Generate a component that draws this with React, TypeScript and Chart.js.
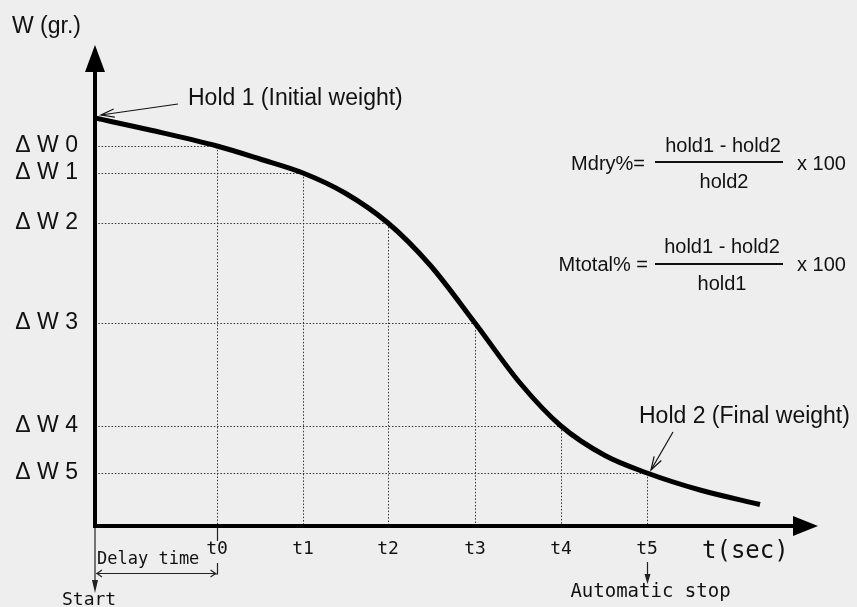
import React, { useEffect, useRef } from 'react';
import { Chart, registerables } from 'chart.js';

Chart.register(...registerables);

// ---- data ----
const tValues = [12.2, 20.8, 29.3, 38.0, 46.6, 55.2];
const wValues = [38.0, 35.3, 30.3, 20.3, 10.0, 5.3];
const xTickLabels = ['t0', 't1', 't2', 't3', 't4', 't5'];
const yTickLabels = ['\u0394 W 0', '\u0394 W 1', '\u0394 W 2', '\u0394 W 3', '\u0394 W 4', '\u0394 W 5'];
const curveT = [0, 5.5, 12.2, 16.5, 20.8, 25.0, 29.3, 33.5, 38.0, 42.5, 46.6, 51.0, 55.2, 60.5, 66.5];
const curveW = [40.8, 39.6, 38.0, 36.7, 35.3, 33.3, 30.3, 26.1, 20.3, 14.3, 10.0, 7.05, 5.3, 3.6, 2.15];
const X_MAX = 72.3;
const Y_MAX = 48.1;

const BG = '#eeeeee';
const INK = '#111111';
const SANS = '"Liberation Sans", Arial, sans-serif';
const MONO = '"DejaVu Sans Mono", monospace';

function openHead(ctx: CanvasRenderingContext2D, fx: number, fy: number, tx: number, ty: number, len: number, ang: number) {
  const a = Math.atan2(ty - fy, tx - fx);
  ctx.beginPath();
  ctx.moveTo(tx - len * Math.cos(a - ang), ty - len * Math.sin(a - ang));
  ctx.lineTo(tx, ty);
  ctx.lineTo(tx - len * Math.cos(a + ang), ty - len * Math.sin(a + ang));
  ctx.stroke();
}

function filledHead(ctx: CanvasRenderingContext2D, fx: number, fy: number, tx: number, ty: number, len: number, half: number) {
  const a = Math.atan2(ty - fy, tx - fx);
  const bx = tx - len * Math.cos(a), by = ty - len * Math.sin(a);
  const nx = -Math.sin(a) * half, ny = Math.cos(a) * half;
  ctx.beginPath();
  ctx.moveTo(tx, ty);
  ctx.lineTo(bx + nx, by + ny);
  ctx.lineTo(bx - nx, by - ny);
  ctx.closePath();
  ctx.fill();
}

function text(ctx: CanvasRenderingContext2D, s: string, x: number, y: number, font: string, align: CanvasTextAlign = 'left', base: CanvasTextBaseline = 'middle') {
  ctx.font = font;
  ctx.textAlign = align;
  ctx.textBaseline = base;
  ctx.fillText(s, x, y);
}

const decor = {
  id: 'decor',
  beforeDraw(chart: any) {
    const { ctx, width, height } = chart;
    ctx.save();
    ctx.fillStyle = BG;
    ctx.fillRect(0, 0, width, height);
    ctx.restore();
  },
  beforeDatasetsDraw(chart: any) {
    const ctx: CanvasRenderingContext2D = chart.ctx;
    const xs = chart.scales.x, ys = chart.scales.y;
    const x0 = xs.getPixelForValue(0), y0 = ys.getPixelForValue(0);
    ctx.save();
    ctx.strokeStyle = 'rgba(20,20,20,0.85)';
    ctx.lineWidth = 1;
    ctx.setLineDash([1.5, 1.8]);
    tValues.forEach((t, i) => {
      const px = Math.round(xs.getPixelForValue(t)) + 0.5;
      const py = Math.round(ys.getPixelForValue(wValues[i])) + 0.5;
      ctx.beginPath();
      ctx.moveTo(x0, py);
      ctx.lineTo(px, py);
      ctx.moveTo(px, py);
      ctx.lineTo(px, y0);
      ctx.stroke();
    });
    ctx.restore();
  },
  afterDatasetsDraw(chart: any) {
    const ctx: CanvasRenderingContext2D = chart.ctx;
    const xs = chart.scales.x, ys = chart.scales.y;
    const x0 = xs.getPixelForValue(0), y0 = ys.getPixelForValue(0);
    const top = ys.getPixelForValue(Y_MAX);
    const right = xs.getPixelForValue(X_MAX);
    ctx.save();
    ctx.fillStyle = '#000';
    ctx.strokeStyle = '#000';
    // axes
    ctx.lineWidth = 4;
    ctx.beginPath();
    ctx.moveTo(x0, y0 + 2);
    ctx.lineTo(x0, top + 26);
    ctx.moveTo(x0 - 2, y0);
    ctx.lineTo(right - 25, y0);
    ctx.stroke();
    ctx.beginPath();
    ctx.moveTo(x0, top);
    ctx.lineTo(x0 - 10, top + 27);
    ctx.lineTo(x0 + 10, top + 27);
    ctx.closePath();
    ctx.fill();
    ctx.beginPath();
    ctx.moveTo(right, y0);
    ctx.lineTo(right - 25, y0 - 10);
    ctx.lineTo(right - 25, y0 + 10);
    ctx.closePath();
    ctx.fill();

    // thin annotation lines
    ctx.lineWidth = 1.2;
    ctx.strokeStyle = '#222';
    ctx.fillStyle = '#222';
    const t0x = Math.round(xs.getPixelForValue(tValues[0])) + 0.5;
    const t5x = Math.round(xs.getPixelForValue(tValues[5])) + 0.5;
    // t0 tick and delay bracket
    ctx.beginPath();
    ctx.moveTo(t0x, y0 + 2);
    ctx.lineTo(t0x, y0 + 15);
    ctx.moveTo(t0x, y0 + 37);
    ctx.lineTo(t0x, y0 + 48);
    ctx.lineTo(t0x - 3, y0 + 48);
    ctx.moveTo(x0 + 1, y0 + 47.5);
    ctx.lineTo(t0x - 2, y0 + 47.5);
    ctx.stroke();
    openHead(ctx, t0x, y0 + 47.5, x0 + 2, y0 + 47.5, 6, 0.6);
    openHead(ctx, x0, y0 + 47.5, t0x - 2, y0 + 47.5, 6, 0.6);
    // start arrow
    ctx.beginPath();
    ctx.moveTo(x0, y0 + 2);
    ctx.lineTo(x0, y0 + 60);
    ctx.stroke();
    filledHead(ctx, x0, y0 + 40, x0, y0 + 67, 13, 3);
    // automatic stop arrow
    ctx.beginPath();
    ctx.moveTo(t5x, y0 + 36);
    ctx.lineTo(t5x, y0 + 52);
    ctx.stroke();
    filledHead(ctx, t5x, y0 + 36, t5x, y0 + 58, 10, 3);

    // hold arrows
    ctx.strokeStyle = '#111';
    ctx.lineWidth = 1.2;
    const h1x = xs.getPixelForValue(curveT[0]) + 6, h1y = ys.getPixelForValue(curveW[0]) - 3;
    ctx.beginPath();
    ctx.moveTo(178, 104);
    ctx.lineTo(h1x, h1y);
    ctx.stroke();
    openHead(ctx, 178, 104, h1x, h1y, 14, 0.3);
    const h2x = xs.getPixelForValue(tValues[5]) + 4, h2y = ys.getPixelForValue(wValues[5]) - 3;
    ctx.beginPath();
    ctx.moveTo(673, 432);
    ctx.lineTo(h2x, h2y);
    ctx.stroke();
    openHead(ctx, 673, 432, h2x, h2y, 14, 0.3);

    // texts
    ctx.fillStyle = INK;
    text(ctx, 'W (gr.)', 12, 33, `23px ${SANS}`, 'left', 'alphabetic');
    text(ctx, 'Hold 1 (Initial weight)', 188, 105, `23px ${SANS}`, 'left', 'alphabetic');
    text(ctx, 'Hold 2 (Final weight)', 639, 423, `23px ${SANS}`, 'left', 'alphabetic');

    // formulas
    const ff = `20px ${SANS}`;
    text(ctx, 'Mdry%=', 645, 164, ff, 'right');
    text(ctx, 'hold1 - hold2', 723, 146, ff, 'center');
    text(ctx, 'hold2', 724, 182, ff, 'center');
    text(ctx, 'x 100', 797, 164, ff, 'left');
    text(ctx, 'Mtotal% =', 648, 265, ff, 'right');
    text(ctx, 'hold1 - hold2', 722, 247, ff, 'center');
    text(ctx, 'hold1', 722, 284, ff, 'center');
    text(ctx, 'x 100', 797, 265, ff, 'left');
    ctx.fillRect(655, 161, 128, 2);
    ctx.fillRect(655, 263, 128, 2);

    // mono labels
    text(ctx, 't(sec)', 702, 552, `24px ${MONO}`, 'left');
    text(ctx, 'Delay time', 97, 560, `17px ${MONO}`, 'left');
    text(ctx, 'Start', 62, 600, `18px ${MONO}`, 'left');
    text(ctx, 'Automatic stop', t5x + 3, 592, `19px ${MONO}`, 'center');
    ctx.restore();
  },
};

export default function App() {
  const ref = useRef<HTMLCanvasElement>(null);
  useEffect(() => {
    document.body.style.margin = '0';
    document.body.style.background = BG;
    const chart = new Chart(ref.current as HTMLCanvasElement, {
      type: 'line',
      data: {
        datasets: [
          {
            data: curveT.map((t, i) => ({ x: t, y: curveW[i] })),
            borderColor: '#000',
            borderWidth: 5,
            pointRadius: 0,
            fill: false,
            cubicInterpolationMode: 'monotone',
          } as any,
        ],
      },
      options: {
        responsive: false,
        animation: false,
        events: [],
        layout: { padding: { top: 45, right: 39, left: 0, bottom: 0 } },
        plugins: { legend: { display: false }, tooltip: { enabled: false } },
        scales: {
          x: {
            type: 'linear',
            min: 0,
            max: X_MAX,
            grid: { display: false, drawTicks: false },
            border: { display: false },
            afterBuildTicks: (scale: any) => {
              scale.ticks = tValues.map((v) => ({ value: v }));
            },
            afterFit: (scale: any) => {
              scale.height = 81;
            },
            ticks: {
              autoSkip: false,
              maxRotation: 0,
              padding: 13,
              color: INK,
              font: { family: MONO, size: 18 },
              callback: (_v: any, i: number) => xTickLabels[i],
            },
          },
          y: {
            type: 'linear',
            min: 0,
            max: Y_MAX,
            grid: { display: false, drawTicks: false },
            border: { display: false },
            afterBuildTicks: (scale: any) => {
              scale.ticks = wValues.map((v) => ({ value: v }));
            },
            afterFit: (scale: any) => {
              scale.width = 95;
            },
            ticks: {
              autoSkip: false,
              padding: 17,
              color: INK,
              font: { family: SANS, size: 23 },
              callback: (_v: any, i: number) => yTickLabels[i],
            },
          },
        },
      },
      plugins: [decor],
    });
    return () => chart.destroy();
  }, []);
  return (
    <div style={{ width: 857, height: 607 }}>
      <canvas ref={ref} width={857} height={607} style={{ display: 'block' }} />
    </div>
  );
}
